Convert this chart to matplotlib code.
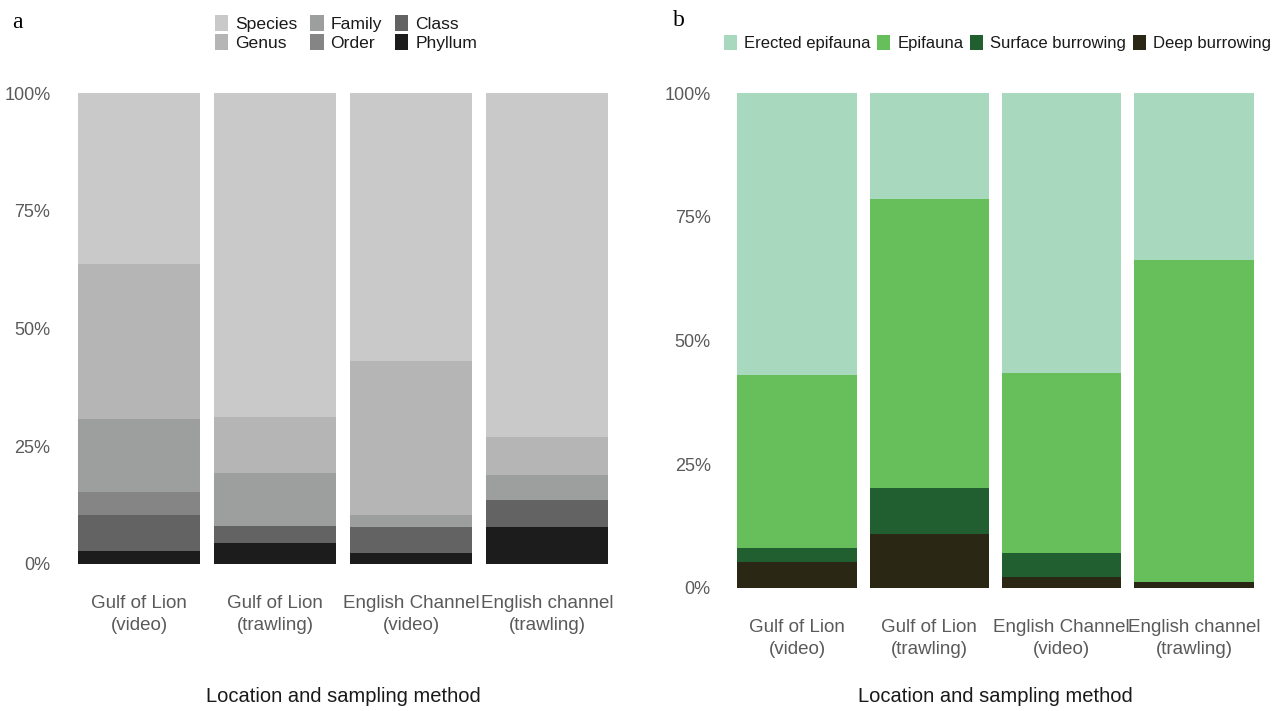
import numpy as np
import matplotlib
matplotlib.use("Agg")
import matplotlib.pyplot as plt
from matplotlib.patches import Patch

# Data (percent of taxa per bar)
sites = ["Gulf of Lion\n(video)", "Gulf of Lion\n(trawling)",
         "English Channel\n(video)", "English channel\n(trawling)"]

# panel a: taxonomic resolution, bottom -> top
taxo_levels = ["Phyllum", "Class", "Order", "Family", "Genus", "Species"]
phyllum = [2.7, 4.4, 2.3, 7.9]
klass = [7.6, 3.7, 5.6, 5.7]
order = [4.9, 0.0, 0.0, 0.0]
family = [15.5, 11.3, 2.4, 5.3]
genus = [33.1, 11.9, 32.8, 8.1]
species = [36.2, 68.7, 56.9, 73.0]
taxo_colors = ["#1c1c1c", "#636363", "#858585", "#9d9f9e", "#b5b5b5", "#c9c9c9"]

# panel b: life habit, bottom -> top
habit_levels = ["Deep burrowing", "Surface burrowing", "Epifauna", "Erected epifauna"]
deep = [5.3, 10.9, 2.2, 1.3]
surface = [2.7, 9.4, 4.8, 0.0]
epifauna = [35.0, 58.3, 36.5, 65.0]
erected = [57.0, 21.4, 56.5, 33.7]
habit_colors = ["#2a2815", "#225f30", "#67bf5c", "#a8d8bd"]

W, H = 1282, 711
fig = plt.figure(figsize=(W / 100, H / 100), dpi=100)

TICK_COL = "#5a5a5a"
TXT_COL = "#1a1a1a"


def px_axes(left, right, top, bottom):
    return fig.add_axes([left / W, 1 - bottom / H, (right - left) / W, (bottom - top) / H])


def stacked(ax, series, colors, labels):
    x = np.arange(len(sites))
    base = np.zeros(len(sites))
    for vals, c, lab in zip(series, colors, labels):
        vals = np.array(vals) / 100.0
        ax.bar(x, vals, width=0.9, bottom=base, color=c, linewidth=0, label=lab)
        base += vals
    ax.set_xlim(-0.6, len(sites) - 0.4)
    ax.set_ylim(0, 1)
    ax.set_yticks([0, 0.25, 0.5, 0.75, 1.0])
    ax.set_yticklabels(["0%", "25%", "50%", "75%", "100%"])
    ax.set_xticks(x)
    ax.set_xticklabels(sites)
    for s in ax.spines.values():
        s.set_visible(False)
    ax.tick_params(axis="y", length=0, pad=5, labelsize=13, labelcolor=TICK_COL)
    ax.tick_params(axis="x", length=0, pad=22, labelsize=13.5, labelcolor=TICK_COL)
    for t in ax.get_xticklabels():
        t.set_linespacing(1.4)


plt.rcParams["font.family"] = ["Liberation Sans", "DejaVu Sans"]

ax_a = px_axes(57.4, 628.6, 93, 564)
stacked(ax_a, [phyllum, klass, order, family, genus, species], taxo_colors, taxo_levels)

ax_b = px_axes(717.6, 1273.4, 93, 588)
stacked(ax_b, [deep, surface, epifauna, erected], habit_colors, habit_levels)

# axis titles
fig.text(343 / W, 1 - 696 / H, "Location and sampling method", ha="center", va="center",
         fontsize=14.5, color=TXT_COL)
fig.text(995.5 / W, 1 - 696 / H, "Location and sampling method", ha="center", va="center",
         fontsize=14.5, color=TXT_COL)

# panel letters
fig.text(12 / W, 1 - 23 / H, "a", ha="left", va="center", fontsize=17,
         family=["Liberation Serif", "DejaVu Serif"], color="black")
fig.text(673 / W, 1 - 21 / H, "b", ha="left", va="center", fontsize=17,
         family=["Liberation Serif", "DejaVu Serif"], color="black")

# legend a, column-major order
order_a = ["Species", "Genus", "Family", "Order", "Class", "Phyllum"]
col_a = dict(zip(taxo_levels, taxo_colors))
handles_a = [Patch(facecolor=col_a[k], edgecolor="none", label=k) for k in order_a]
leg_a = fig.legend(handles=handles_a, ncol=3, loc="center", bbox_to_anchor=(346 / W, 1 - 33 / H),
                   frameon=False, fontsize=12.6, handlelength=0.75, handleheight=1.05,
                   handletextpad=0.4, columnspacing=0.75, labelspacing=0.12, borderpad=0)
for t in leg_a.get_texts():
    t.set_color(TXT_COL)

# legend b
order_b = ["Erected epifauna", "Epifauna", "Surface burrowing", "Deep burrowing"]
col_b = dict(zip(habit_levels, habit_colors))
handles_b = [Patch(facecolor=col_b[k], edgecolor="none", label=k) for k in order_b]
leg_b = fig.legend(handles=handles_b, ncol=4, loc="center", bbox_to_anchor=(997.5 / W, 1 - 43 / H),
                   frameon=False, fontsize=12, handlelength=0.78, handleheight=1.0,
                   handletextpad=0.42, columnspacing=0.4, borderpad=0)
for t in leg_b.get_texts():
    t.set_color(TXT_COL)

fig.savefig("out.png", dpi=100)
